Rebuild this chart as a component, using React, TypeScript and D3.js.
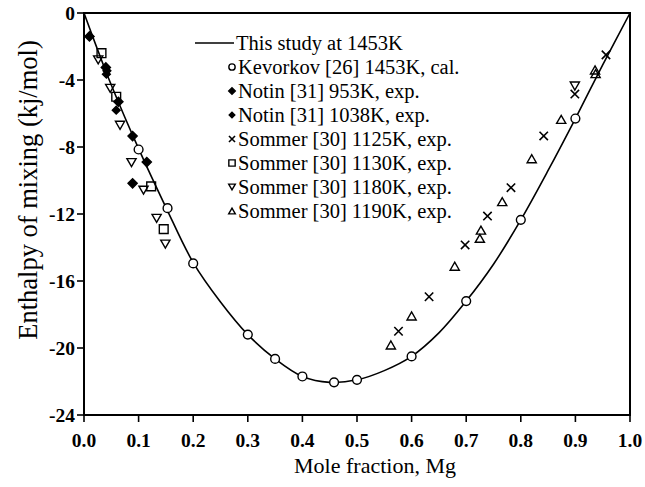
import React from 'react';
import * as d3 from 'd3';

const xTicks = [0, 0.1, 0.2, 0.3, 0.4, 0.5, 0.6, 0.7, 0.8, 0.9, 1.0];
const xTickLabels = ['0.0', '0.1', '0.2', '0.3', '0.4', '0.5', '0.6', '0.7', '0.8', '0.9', '1.0'];
const yTicks = [0, -4, -8, -12, -16, -20, -24];
const yTickLabels = ['0', '-4', '-8', '-12', '-16', '-20', '-24'];

// This study at 1453K (curve)
const curveX = [0, 0.025, 0.05, 0.1, 0.15, 0.2, 0.25, 0.3, 0.35, 0.4, 0.45, 0.5, 0.55, 0.6, 0.65, 0.7, 0.75, 0.8, 0.85, 0.9, 0.95, 1.0];
const curveY = [0, -2.2, -4.3, -8.1, -11.6, -14.9, -17.25, -19.2, -20.65, -21.7, -22.05, -21.9, -21.35, -20.5, -19.1, -17.2, -15.0, -12.35, -9.4, -6.3, -3.1, 0];

const kevorkovX = [0.1, 0.153, 0.2, 0.3, 0.35, 0.4, 0.458, 0.5, 0.6, 0.7, 0.8, 0.9];
const kevorkovY = [-8.15, -11.65, -14.95, -19.2, -20.65, -21.7, -22.05, -21.9, -20.5, -17.2, -12.35, -6.3];

const notin953X = [0.01, 0.04, 0.063, 0.089, 0.115, 0.089];
const notin953Y = [-1.4, -3.25, -5.3, -7.35, -8.9, -10.17];

const notin1038X = [0.041, 0.059, 0.042];
const notin1038Y = [-3.65, -5.8, -3.45];

const sommer1125X = [0.576, 0.632, 0.698, 0.739, 0.782, 0.842, 0.899, 0.956];
const sommer1125Y = [-19.0, -16.94, -13.85, -12.12, -10.43, -7.34, -4.84, -2.5];

const sommer1130X = [0.032, 0.059, 0.123, 0.146];
const sommer1130Y = [-2.4, -5.0, -10.35, -12.9];

const sommer1180X = [0.026, 0.048, 0.066, 0.087, 0.109, 0.133, 0.149, 0.899];
const sommer1180Y = [-2.8, -4.5, -6.7, -8.93, -10.58, -12.26, -13.8, -4.36];

const sommer1190X = [0.562, 0.6, 0.679, 0.725, 0.727, 0.766, 0.82, 0.874, 0.936, 0.937];
const sommer1190Y = [-19.82, -18.09, -15.12, -13.45, -12.96, -11.26, -8.7, -6.35, -3.4, -3.62];

const legendLabels = [
  'This study at 1453K',
  'Kevorkov [26] 1453K, cal.',
  'Notin [31] 953K, exp.',
  'Notin [31] 1038K, exp.',
  'Sommer [30] 1125K, exp.',
  'Sommer [30] 1130K, exp.',
  'Sommer [30] 1180K, exp.',
  'Sommer [30] 1190K, exp.',
];

type Kind = 'circle' | 'diamondBig' | 'diamondSmall' | 'cross' | 'square' | 'triDown' | 'triUp';

function markerPath(kind: Kind, s: number): string {
  switch (kind) {
    case 'diamondBig':
    case 'diamondSmall': {
      const r = (kind === 'diamondBig' ? 4.6 : 3.9) * s;
      return `M0,${-r}L${r},0L0,${r}L${-r},0Z`;
    }
    case 'cross': {
      const r = 4.2 * s;
      return `M${-r},${-r}L${r},${r}M${-r},${r}L${r},${-r}`;
    }
    case 'square': {
      const r = 4.4 * s;
      return `M${-r},${-r}L${r},${-r}L${r},${r}L${-r},${r}Z`;
    }
    case 'triDown': {
      const w = 4.6 * s, h = 4.0 * s;
      return `M${-w},${-h}L${w},${-h}L0,${h}Z`;
    }
    case 'triUp': {
      const w = 4.6 * s, h = 4.0 * s;
      return `M${-w},${h}L${w},${h}L0,${-h}Z`;
    }
    default:
      return '';
  }
}

function Marker({ kind, cx, cy, s = 1 }: { kind: Kind; cx: number; cy: number; s?: number }) {
  if (kind === 'circle') {
    return <circle cx={cx} cy={cy} r={4.4 * s} fill="white" stroke="black" strokeWidth={1.4} />;
  }
  const filled = kind === 'diamondBig' || kind === 'diamondSmall';
  return (
    <path
      d={markerPath(kind, s)}
      transform={`translate(${cx},${cy})`}
      fill={filled ? 'black' : 'white'}
      fillOpacity={filled || kind === 'cross' ? 1 : 0}
      stroke="black"
      strokeWidth={kind === 'cross' ? 1.6 : 1.4}
    />
  );
}

const series: { kind: Kind; xs: number[]; ys: number[] }[] = [
  { kind: 'circle', xs: kevorkovX, ys: kevorkovY },
  { kind: 'diamondBig', xs: notin953X, ys: notin953Y },
  { kind: 'diamondSmall', xs: notin1038X, ys: notin1038Y },
  { kind: 'cross', xs: sommer1125X, ys: sommer1125Y },
  { kind: 'square', xs: sommer1130X, ys: sommer1130Y },
  { kind: 'triDown', xs: sommer1180X, ys: sommer1180Y },
  { kind: 'triUp', xs: sommer1190X, ys: sommer1190Y },
];

export default function App() {
  const W = 645, H = 487;
  const left = 84, right = 630, top = 13, bottom = 415;
  const x = d3.scaleLinear().domain([0, 1]).range([left, right]);
  const y = d3.scaleLinear().domain([0, -24]).range([top, bottom]);
  const line = d3
    .line<number>()
    .x((_, i) => x(curveX[i]))
    .y((d) => y(d))
    .curve(d3.curveCatmullRom.alpha(0.5));
  const font = '"Liberation Serif", "Times New Roman", serif';
  const legendX = 232;
  const legendY0 = 43;
  const legendDy = 24;
  const legendKinds: Kind[] = ['circle', 'diamondBig', 'diamondSmall', 'cross', 'square', 'triDown', 'triUp'];

  return (
    <svg
      width={W}
      height={H}
      style={{ position: 'absolute', left: 0, top: 0, display: 'block', background: 'white' }}
      fontFamily={font}
    >
      <rect x={0} y={0} width={W} height={H} fill="white" />
      {/* curve */}
      <path d={line(curveY) || ''} fill="none" stroke="black" strokeWidth={1.6} />
      {/* markers */}
      {series.map((s, si) =>
        s.xs.map((xv, i) => <Marker key={`${si}-${i}`} kind={s.kind} cx={x(xv)} cy={y(s.ys[i])} />)
      )}
      {/* frame */}
      <rect x={left} y={top} width={right - left} height={bottom - top} fill="none" stroke="black" strokeWidth={2} />
      {/* x ticks */}
      {xTicks.map((t, i) => (
        <g key={`xt${i}`}>
          <line x1={x(t)} x2={x(t)} y1={bottom} y2={bottom + 7} stroke="black" strokeWidth={1.6} />
          <text x={x(t)} y={447} textAnchor="middle" fontSize={19.5} fontWeight="bold">
            {xTickLabels[i]}
          </text>
        </g>
      ))}
      {/* y ticks */}
      {yTicks.map((t, i) => (
        <g key={`yt${i}`}>
          <line x1={left - 7} x2={left} y1={y(t)} y2={y(t)} stroke="black" strokeWidth={1.6} />
          <text x={75} y={y(t) + 6.5} textAnchor="end" fontSize={19.5} fontWeight="bold">
            {yTickLabels[i]}
          </text>
        </g>
      ))}
      {/* axis titles */}
      <text x={375} y={473} textAnchor="middle" fontSize={22}>
        Mole fraction, Mg
      </text>
      <text transform="translate(37,190) rotate(-90)" textAnchor="middle" fontSize={26.5}>
        Enthalpy of mixing (kj/mol)
      </text>
      {/* legend */}
      <line x1={195} x2={234} y1={legendY0} y2={legendY0} stroke="black" strokeWidth={1.6} />
      {legendLabels.map((lab, i) => (
        <g key={`lg${i}`}>
          {i > 0 && <Marker kind={legendKinds[i - 1]} cx={legendX} cy={legendY0 + i * legendDy} s={0.72} />}
          <text x={i === 0 ? 236 : 238} y={legendY0 + i * legendDy + 7} fontSize={20.5}>
            {lab}
          </text>
        </g>
      ))}
    </svg>
  );
}
